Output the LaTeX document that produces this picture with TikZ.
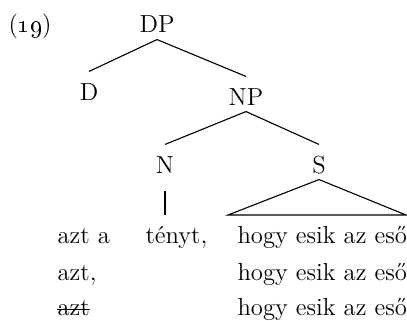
\documentclass[tikz,border=0pt]{standalone}
\usepackage{tikz}

\begin{document}
\begin{tikzpicture}[x=0.45pt,y=-0.45pt,line width=0.5pt,
            font=\fontsize{11.1}{13}\selectfont,
            cat/.style={inner sep=0pt,text height=12.6pt,text depth=2.7pt,anchor=base},
            word/.style={inner sep=0pt,anchor=base west}]

          \useasboundingbox (0,0) rectangle (407,320);

          \node[word] (ex) at (8,33) {(\oldstylenums{19})};

          \node[cat] (DP) at (157,33)  {DP};
          \node[cat] (D)  at (89,100)  {D};
          \node[cat] (NP) at (246,105) {NP};
          \node[cat] (N)  at (165,173) {N};
          \node[cat] (S)  at (319,173) {S};

          \coordinate (Nfoot) at (165,215);
          \coordinate (Sl)    at (228,215);
          \coordinate (Sr)    at (406,215);

          \path (DP.south) edge (D.north)
                           edge (NP.north)
                (NP.south) edge (N.north)
                           edge (S.north);
          \draw[shorten <=5pt] (N.south) -- (Nfoot);
          \draw (S.south) -- (Sr) -- (Sl) -- cycle;

          % the three readings
          \node[word] (azta)  at (57,243)  {azt a};
          \node[word] (tenyt) at (145,243) {tényt,};
          \node[word] (hogyA) at (237,243) {hogy esik az eső};
          \node[word] (aztB)  at (57,280)  {azt,};
          \node[word] (hogyB) at (237,280) {hogy esik az eső};
          \node[word] (aztC)  at (57,315)  {azt};
          \node[word] (hogyC) at (237,315) {hogy esik az eső};

          \draw ([yshift=2.5pt]aztC.base west) -- ([yshift=2.5pt]aztC.base east);
        \end{tikzpicture}
\end{document}
